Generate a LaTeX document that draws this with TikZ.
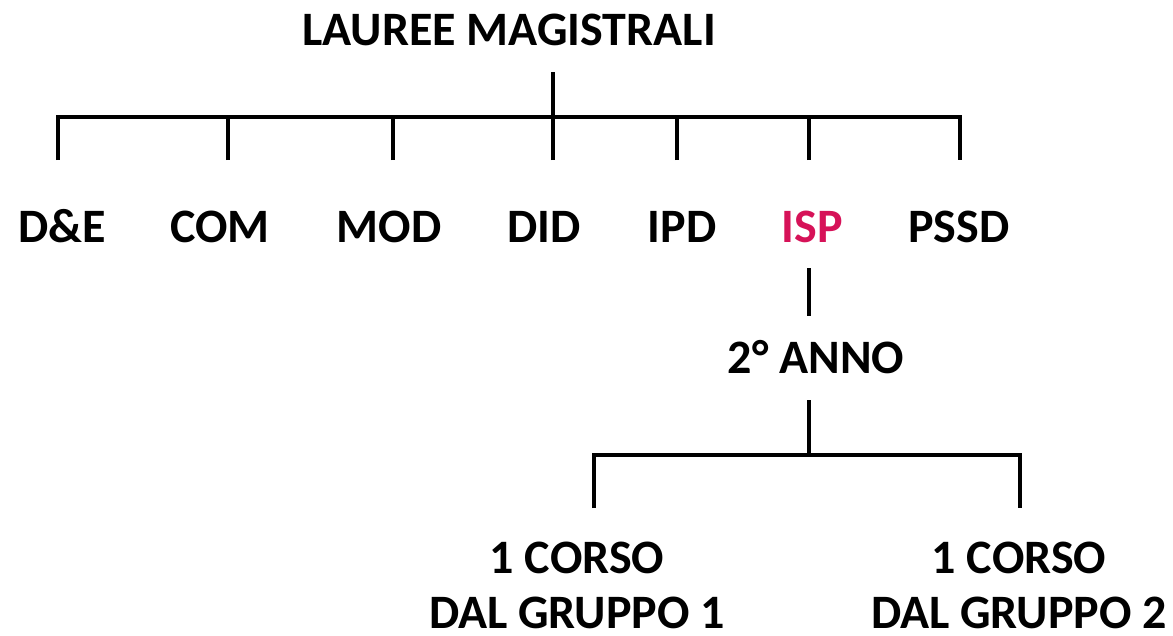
\documentclass[tikz,border=0pt]{standalone}
\usepackage{fontspec}
\setmainfont{Carlito}
\definecolor{ispred}{RGB}{214,18,88}
\tikzset{
  lbl/.style={font=\fontsize{48}{55}\selectfont\bfseries, anchor=base, inner sep=0pt},
  branch/.style={line width=4pt, line join=miter},
}
\begin{document}
\begin{tikzpicture}[x=1pt,y=-1pt]
  \useasboundingbox (0,0) rectangle (1173,635);
  % titles
  \node[lbl] (lm) at (509,45) {LAUREE MAGISTRALI};
  \node[lbl] (de) at (62,242) {D\&E};
  \node[lbl] (com) at (220,242) {COM};
  \node[lbl] (mod) at (389,242) {MOD};
  \node[lbl] (did) at (544,242) {DID};
  \node[lbl] (ipd) at (682,242) {IPD};
  \node[lbl,text=ispred] (isp) at (812,242) {ISP};
  \node[lbl] (pssd) at (959,242) {PSSD};
  \node[lbl] (anno) at (816,373) {2° ANNO};
  \node[lbl,align=center] (gr1) at (577,628) {1 CORSO\\DAL GRUPPO 1};
  \node[lbl,align=center] (gr2) at (1019,628) {1 CORSO\\DAL GRUPPO 2};
  % first level
  \coordinate (lmroot) at (553,72);
  \coordinate (lmbar) at (553,117);
  \coordinate (tde) at (58,160);
  \coordinate (tpssd) at (960,160);
  \draw[branch] (lmroot) -- (lmbar);
  \draw[branch] (tde) -- (tde |- lmbar) -- (tpssd |- lmbar) -- (tpssd);
  \foreach \n/\x in {com/228,mod/393,did/553,ipd/677,isp/809} {
    \coordinate (t\n) at (\x,160);
    \draw[branch] (t\n) -- (t\n |- lmbar);
  }
  % ISP
  \coordinate (isptop) at (809,268);
  \coordinate (ispbot) at (809,316);
  \draw[branch] (isptop) -- (ispbot);
  % second year
  \coordinate (annoroot) at (809,400);
  \coordinate (annobar) at (809,455);
  \coordinate (tgr1) at (594,508);
  \coordinate (tgr2) at (1020,508);
  \draw[branch] (annoroot) -- (annobar);
  \draw[branch] (tgr1) -- (tgr1 |- annobar) -- (tgr2 |- annobar) -- (tgr2);
\end{tikzpicture}
\end{document}
